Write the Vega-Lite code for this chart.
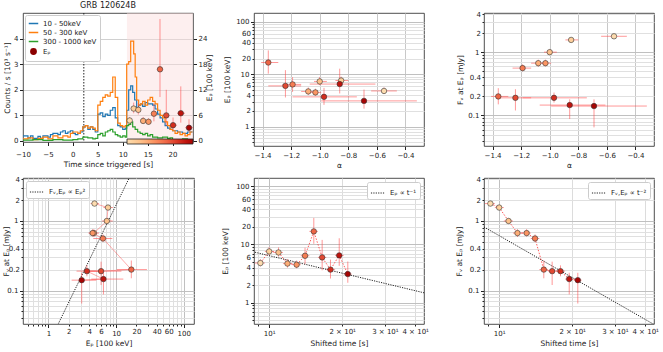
{
"$schema": "https://vega.github.io/schema/vega-lite/v6.json",
"autosize": {"type": "pad"},
"padding": {"left": 2, "top": 1, "right": 2, "bottom": 2},
"config": {
  "font": "DejaVu Sans",
  "view": {"stroke": "#222", "strokeWidth": 0.8},
  "axis": {"domain": false, "labelFontSize": 7, "titleFontSize": 7.5, "titleFontWeight": "normal", "labelColor": "#222", "titleColor": "#222", "tickColor": "#222", "tickSize": 3, "labelPadding": 1.5, "titlePadding": 3, "labelFlush": false, "labelOverlap": false, "gridColor": "#d0d0d0"},
  "legend": {"labelFontSize": 7, "labelFont": "DejaVu Sans", "labelColor": "#222"},
  "title": {"fontSize": 8, "fontWeight": "normal", "font": "DejaVu Sans", "color": "#222"}
},
"datasets": {
  "lc": [
    {"t":-10,"c":0.2,"b":"10 - 50keV"},{"t":-9,"c":0.12,"b":"10 - 50keV"},{"t":-8.5,"c":0.2,"b":"10 - 50keV"},{"t":-8,"c":0.1,"b":"10 - 50keV"},{"t":-7,"c":0.18,"b":"10 - 50keV"},{"t":-6.5,"c":0.1,"b":"10 - 50keV"},{"t":-6,"c":0.2,"b":"10 - 50keV"},{"t":-5,"c":0.15,"b":"10 - 50keV"},{"t":-4.5,"c":0.25,"b":"10 - 50keV"},{"t":-4,"c":0.3,"b":"10 - 50keV"},{"t":-3,"c":0.25,"b":"10 - 50keV"},{"t":-2.5,"c":0.35,"b":"10 - 50keV"},{"t":-2,"c":0.4,"b":"10 - 50keV"},{"t":-1.5,"c":0.3,"b":"10 - 50keV"},{"t":-1,"c":0.35,"b":"10 - 50keV"},{"t":-0.5,"c":0.4,"b":"10 - 50keV"},{"t":0,"c":0.3,"b":"10 - 50keV"},{"t":0.5,"c":0.25,"b":"10 - 50keV"},{"t":1,"c":0.3,"b":"10 - 50keV"},{"t":1.5,"c":0.35,"b":"10 - 50keV"},{"t":2,"c":0.55,"b":"10 - 50keV"},{"t":2.5,"c":0.6,"b":"10 - 50keV"},{"t":3,"c":0.45,"b":"10 - 50keV"},{"t":3.5,"c":0.55,"b":"10 - 50keV"},{"t":4,"c":0.45,"b":"10 - 50keV"},{"t":4.5,"c":0.35,"b":"10 - 50keV"},{"t":5,"c":1.05,"b":"10 - 50keV"},{"t":5.5,"c":1.1,"b":"10 - 50keV"},{"t":6,"c":0.95,"b":"10 - 50keV"},{"t":6.5,"c":1.05,"b":"10 - 50keV"},{"t":7,"c":1.0,"b":"10 - 50keV"},{"t":7.5,"c":1.2,"b":"10 - 50keV"},{"t":8,"c":1.3,"b":"10 - 50keV"},{"t":8.5,"c":0.9,"b":"10 - 50keV"},{"t":9,"c":0.6,"b":"10 - 50keV"},{"t":9.5,"c":0.55,"b":"10 - 50keV"},{"t":10,"c":0.45,"b":"10 - 50keV"},{"t":10.5,"c":0.5,"b":"10 - 50keV"},{"t":10.8,"c":1.2,"b":"10 - 50keV"},{"t":11.2,"c":2.0,"b":"10 - 50keV"},{"t":11.6,"c":2.15,"b":"10 - 50keV"},{"t":12,"c":1.9,"b":"10 - 50keV"},{"t":12.4,"c":1.6,"b":"10 - 50keV"},{"t":12.8,"c":1.3,"b":"10 - 50keV"},{"t":13.2,"c":1.4,"b":"10 - 50keV"},{"t":13.6,"c":1.45,"b":"10 - 50keV"},{"t":14,"c":1.35,"b":"10 - 50keV"},{"t":14.5,"c":1.5,"b":"10 - 50keV"},{"t":15,"c":1.45,"b":"10 - 50keV"},{"t":15.5,"c":1.45,"b":"10 - 50keV"},{"t":16,"c":1.4,"b":"10 - 50keV"},{"t":16.5,"c":1.25,"b":"10 - 50keV"},{"t":17,"c":1.05,"b":"10 - 50keV"},{"t":17.5,"c":0.9,"b":"10 - 50keV"},{"t":18,"c":0.75,"b":"10 - 50keV"},{"t":18.5,"c":0.6,"b":"10 - 50keV"},{"t":19,"c":0.5,"b":"10 - 50keV"},{"t":19.5,"c":0.45,"b":"10 - 50keV"},{"t":20,"c":0.4,"b":"10 - 50keV"},{"t":21,"c":0.35,"b":"10 - 50keV"},{"t":22,"c":0.3,"b":"10 - 50keV"},{"t":23,"c":0.35,"b":"10 - 50keV"},{"t":24,"c":0.35,"b":"10 - 50keV"},
    {"t":-10,"c":0.08,"b":"50 - 300 keV"},{"t":-9,"c":0.12,"b":"50 - 300 keV"},{"t":-8,"c":0.05,"b":"50 - 300 keV"},{"t":-7,"c":0.1,"b":"50 - 300 keV"},{"t":-6,"c":0.15,"b":"50 - 300 keV"},{"t":-5,"c":0.08,"b":"50 - 300 keV"},{"t":-4,"c":0.2,"b":"50 - 300 keV"},{"t":-3,"c":0.12,"b":"50 - 300 keV"},{"t":-2,"c":0.2,"b":"50 - 300 keV"},{"t":-1,"c":0.15,"b":"50 - 300 keV"},{"t":-0.5,"c":0.3,"b":"50 - 300 keV"},{"t":0,"c":0.35,"b":"50 - 300 keV"},{"t":1,"c":0.3,"b":"50 - 300 keV"},{"t":1.5,"c":0.4,"b":"50 - 300 keV"},{"t":2,"c":0.55,"b":"50 - 300 keV"},{"t":2.5,"c":0.6,"b":"50 - 300 keV"},{"t":3,"c":0.5,"b":"50 - 300 keV"},{"t":3.5,"c":0.55,"b":"50 - 300 keV"},{"t":4,"c":0.5,"b":"50 - 300 keV"},{"t":4.5,"c":0.4,"b":"50 - 300 keV"},{"t":5,"c":1.4,"b":"50 - 300 keV"},{"t":5.5,"c":1.55,"b":"50 - 300 keV"},{"t":6,"c":1.7,"b":"50 - 300 keV"},{"t":6.5,"c":1.8,"b":"50 - 300 keV"},{"t":7,"c":1.75,"b":"50 - 300 keV"},{"t":7.5,"c":1.9,"b":"50 - 300 keV"},{"t":8,"c":2.5,"b":"50 - 300 keV"},{"t":8.5,"c":1.7,"b":"50 - 300 keV"},{"t":9,"c":0.7,"b":"50 - 300 keV"},{"t":9.5,"c":0.6,"b":"50 - 300 keV"},{"t":10,"c":0.55,"b":"50 - 300 keV"},{"t":10.5,"c":0.6,"b":"50 - 300 keV"},{"t":10.8,"c":3.0,"b":"50 - 300 keV"},{"t":11.2,"c":3.1,"b":"50 - 300 keV"},{"t":11.6,"c":3.9,"b":"50 - 300 keV"},{"t":12.2,"c":3.4,"b":"50 - 300 keV"},{"t":12.5,"c":2.5,"b":"50 - 300 keV"},{"t":12.8,"c":1.6,"b":"50 - 300 keV"},{"t":13.2,"c":1.4,"b":"50 - 300 keV"},{"t":13.6,"c":1.45,"b":"50 - 300 keV"},{"t":14,"c":1.55,"b":"50 - 300 keV"},{"t":14.5,"c":1.4,"b":"50 - 300 keV"},{"t":15,"c":1.6,"b":"50 - 300 keV"},{"t":15.5,"c":1.7,"b":"50 - 300 keV"},{"t":16,"c":1.55,"b":"50 - 300 keV"},{"t":16.5,"c":1.45,"b":"50 - 300 keV"},{"t":17,"c":1.2,"b":"50 - 300 keV"},{"t":17.5,"c":1.0,"b":"50 - 300 keV"},{"t":18,"c":0.9,"b":"50 - 300 keV"},{"t":18.5,"c":0.75,"b":"50 - 300 keV"},{"t":19,"c":0.6,"b":"50 - 300 keV"},{"t":19.5,"c":0.45,"b":"50 - 300 keV"},{"t":20,"c":0.4,"b":"50 - 300 keV"},{"t":20.5,"c":0.3,"b":"50 - 300 keV"},{"t":21,"c":0.35,"b":"50 - 300 keV"},{"t":21.5,"c":0.25,"b":"50 - 300 keV"},{"t":22,"c":0.3,"b":"50 - 300 keV"},{"t":22.5,"c":0.2,"b":"50 - 300 keV"},{"t":23,"c":0.25,"b":"50 - 300 keV"},{"t":23.5,"c":0.35,"b":"50 - 300 keV"},{"t":24,"c":0.35,"b":"50 - 300 keV"},
    {"t":-10,"c":0.03,"b":"300 - 1000 keV"},{"t":-8,"c":0.05,"b":"300 - 1000 keV"},{"t":-6,"c":0.02,"b":"300 - 1000 keV"},{"t":-4,"c":0.05,"b":"300 - 1000 keV"},{"t":-2,"c":0.03,"b":"300 - 1000 keV"},{"t":0,"c":0.05,"b":"300 - 1000 keV"},{"t":1,"c":0.08,"b":"300 - 1000 keV"},{"t":2,"c":0.15,"b":"300 - 1000 keV"},{"t":3,"c":0.12,"b":"300 - 1000 keV"},{"t":4,"c":0.08,"b":"300 - 1000 keV"},{"t":4.5,"c":0.1,"b":"300 - 1000 keV"},{"t":5,"c":0.25,"b":"300 - 1000 keV"},{"t":5.5,"c":0.3,"b":"300 - 1000 keV"},{"t":6,"c":0.2,"b":"300 - 1000 keV"},{"t":6.5,"c":0.35,"b":"300 - 1000 keV"},{"t":7,"c":0.4,"b":"300 - 1000 keV"},{"t":7.5,"c":0.45,"b":"300 - 1000 keV"},{"t":8,"c":0.35,"b":"300 - 1000 keV"},{"t":8.5,"c":0.25,"b":"300 - 1000 keV"},{"t":9,"c":0.2,"b":"300 - 1000 keV"},{"t":9.5,"c":0.15,"b":"300 - 1000 keV"},{"t":10,"c":0.2,"b":"300 - 1000 keV"},{"t":10.5,"c":0.15,"b":"300 - 1000 keV"},{"t":10.8,"c":0.6,"b":"300 - 1000 keV"},{"t":11.2,"c":0.65,"b":"300 - 1000 keV"},{"t":11.6,"c":0.75,"b":"300 - 1000 keV"},{"t":12,"c":0.55,"b":"300 - 1000 keV"},{"t":12.5,"c":0.45,"b":"300 - 1000 keV"},{"t":13,"c":0.35,"b":"300 - 1000 keV"},{"t":13.5,"c":0.3,"b":"300 - 1000 keV"},{"t":14,"c":0.25,"b":"300 - 1000 keV"},{"t":14.5,"c":0.3,"b":"300 - 1000 keV"},{"t":15,"c":0.2,"b":"300 - 1000 keV"},{"t":15.5,"c":0.25,"b":"300 - 1000 keV"},{"t":16,"c":0.15,"b":"300 - 1000 keV"},{"t":17,"c":0.12,"b":"300 - 1000 keV"},{"t":18,"c":0.15,"b":"300 - 1000 keV"},{"t":19,"c":0.1,"b":"300 - 1000 keV"},{"t":19.5,"c":0.12,"b":"300 - 1000 keV"},{"t":20,"c":0.05,"b":"300 - 1000 keV"},{"t":21,"c":0.03,"b":"300 - 1000 keV"},{"t":22,"c":0.08,"b":"300 - 1000 keV"},{"t":23,"c":0.05,"b":"300 - 1000 keV"},{"t":24,"c":0.05,"b":"300 - 1000 keV"}
  ],
  "ep": [
    {"i":0,"tt":9.2,"t0":8.75,"t1":9.6,"T":11.4,"T0":10.95,"T1":11.8,"ep":4.8,"ep_lo":4.2,"ep_hi":5.6,"a":-0.55,"a_lo":-0.64,"a_hi":-0.46,"f":1.78,"f_lo":1.66,"f_hi":1.9},
    {"i":1,"tt":10.0,"t0":9.6,"t1":10.45,"T":12.2,"T0":11.8,"T1":12.65,"ep":7.6,"ep_lo":6.5,"ep_hi":9.0,"a":-0.85,"a_lo":-0.89,"a_hi":-0.8,"f":1.56,"f_lo":1.45,"f_hi":1.68},
    {"i":2,"tt":10.93,"t0":10.45,"t1":11.4,"T":13.13,"T0":12.65,"T1":13.6,"ep":7.3,"ep_lo":6.2,"ep_hi":8.9,"a":-1.0,"a_lo":-1.04,"a_hi":-0.95,"f":1.0,"f_lo":0.92,"f_hi":1.1},
    {"i":3,"tt":11.9,"t0":11.4,"t1":12.45,"T":14.1,"T0":13.6,"T1":14.65,"ep":4.7,"ep_lo":4.0,"ep_hi":5.6,"a":-1.08,"a_lo":-1.13,"a_hi":-1.03,"f":0.67,"f_lo":0.59,"f_hi":0.76},
    {"i":4,"tt":12.98,"t0":12.45,"t1":13.5,"T":15.18,"T0":14.65,"T1":15.7,"ep":4.5,"ep_lo":3.9,"ep_hi":5.3,"a":-1.03,"a_lo":-1.08,"a_hi":-0.99,"f":0.67,"f_lo":0.6,"f_hi":0.76},
    {"i":5,"tt":14.06,"t0":13.5,"t1":14.65,"T":16.26,"T0":15.7,"T1":16.85,"ep":6.4,"ep_lo":4.6,"ep_hi":8.8,"a":-1.19,"a_lo":-1.26,"a_hi":-1.13,"f":0.56,"f_lo":0.5,"f_hi":0.64},
    {"i":6,"tt":15.28,"t0":14.65,"t1":15.9,"T":17.48,"T0":16.85,"T1":18.1,"ep":16.8,"ep_lo":10.3,"ep_hi":28.6,"a":-1.36,"a_lo":-1.41,"a_hi":-1.29,"f":0.2,"f_lo":0.15,"f_hi":0.27},
    {"i":7,"tt":16.54,"t0":15.9,"t1":17.2,"T":18.74,"T0":18.1,"T1":19.4,"ep":6.0,"ep_lo":3.6,"ep_hi":12.0,"a":-1.24,"a_lo":-1.36,"a_hi":-1.13,"f":0.19,"f_lo":0.12,"f_hi":0.26},
    {"i":8,"tt":17.9,"t0":17.2,"t1":18.7,"T":20.1,"T0":19.4,"T1":20.9,"ep":3.7,"ep_lo":2.6,"ep_hi":5.5,"a":-0.97,"a_lo":-1.19,"a_hi":-0.74,"f":0.19,"f_lo":0.16,"f_hi":0.23},
    {"i":9,"tt":19.45,"t0":18.7,"t1":20.3,"T":21.65,"T0":20.9,"T1":22.5,"ep":6.5,"ep_lo":4.3,"ep_hi":12.8,"a":-0.86,"a_lo":-1.07,"a_hi":-0.61,"f":0.146,"f_lo":0.088,"f_hi":0.18},
    {"i":10,"tt":21.1,"t0":20.3,"t1":21.9,"T":23.3,"T0":22.5,"T1":24.1,"ep":3.1,"ep_lo":2.2,"ep_hi":5.1,"a":-0.69,"a_lo":-0.99,"a_hi":-0.32,"f":0.141,"f_lo":0.065,"f_hi":0.18}
  ]
},
"columns": 3,
"bounds": "flush",
"spacing": {"row": 32, "column": 60},
"resolve": {"scale": {"color": "independent", "fill": "independent"}, "legend": {"color": "independent", "fill": "independent"}},
"concat": [
  {
    "width": 170, "height": 129,
    "title": {"text": "GRB 120624B", "offset": 3},
    "layer": [
      {"data": {"values": [{"x0": 10.85, "x1": 24.1}]},
       "mark": {"type": "rect", "color": "#fbdcdc", "opacity": 0.45},
       "encoding": {"x": {"field": "x0", "type": "quantitative", "title": "Time since triggered [s]", "scale": {"domain": [-10, 24.1], "nice": false, "zero": false}}, "x2": {"field": "x1"}}},
      {"data": {"values": [{"t0": 2.2}]},
       "mark": {"type": "rule", "color": "#222", "strokeDash": [1.5, 1.5], "strokeWidth": 1},
       "encoding": {"x": {"field": "t0", "type": "quantitative", "title": "Time since triggered [s]", "scale": {"domain": [-10, 24.1], "nice": false, "zero": false}}}},
      {"data": {"name": "lc"},
       "mark": {"type": "line", "interpolate": "step-after", "strokeWidth": 1.2, "clip": true},
       "encoding": {
         "x": {"field": "t", "type": "quantitative", "title": "Time since triggered [s]", "scale": {"domain": [-10, 24.1], "nice": false, "zero": false},
               "axis": {"values": [-10, -5, 0, 5, 10, 15, 20], "tickCount": 100, "format": "d", "grid": false, "labelPadding": 5, "tickSize": 3.5, "labelOverlap": false}},
         "y": {"field": "c", "type": "quantitative", "title": "Counts / s [10³ s⁻¹]", "scale": {"domain": [-0.04, 5.0], "nice": false, "zero": false},
               "axis": {"values": [0, 1, 2, 3, 4], "tickCount": 100, "format": "d", "grid": true, "gridColor": "#d0d0d0", "tickSize": 3.5, "titlePadding": 2, "labelOverlap": false}},
         "color": {"field": "b", "type": "nominal",
           "scale": {"domain": ["10 - 50keV", "50 - 300 keV", "300 - 1000 keV", "Eₚ"], "range": ["#1f77b4", "#ff7f0e", "#2ca02c", "#8b0000"]},
           "legend": {"orient": "top-left", "offset": 2, "title": null, "fillColor": "white", "strokeColor": "#cccccc", "cornerRadius": 2, "padding": 3, "labelFontSize": 7, "symbolType": "stroke", "symbolSize": 90, "symbolStrokeWidth": 1.5, "rowPadding": 0,
             "encode": {"symbols": {"update": {"shape": {"signal": "datum.value === 'Eₚ' ? 'circle' : 'stroke'"}, "fill": {"signal": "datum.value === 'Eₚ' ? '#8b0000' : 'transparent'"}, "size": {"signal": "datum.value === 'Eₚ' ? 28 : 90"}}}}}}
       }},
      {"data": {"name": "ep"},
       "layer": [
         {"mark": {"type": "rule", "color": "#ff4444", "opacity": 0.55, "strokeWidth": 1},
          "encoding": {"x": {"field": "T0", "type": "quantitative", "title": "Time since triggered [s]", "scale": {"domain": [-10, 24.1], "nice": false, "zero": false}}, "x2": {"field": "T1"},
                       "y": {"field": "ep", "type": "quantitative", "title": "Eₚ [100 keV]", "scale": {"domain": [-0.24, 30], "nice": false, "zero": false},
                             "axis": {"orient": "right", "values": [0, 6, 12, 18, 24], "tickCount": 100, "format": "d", "titleAngle": 270, "titlePadding": 7, "grid": false, "tickSize": 3.5, "labelOverlap": false}}}},
         {"mark": {"type": "rule", "color": "#ff4444", "opacity": 0.55, "strokeWidth": 1},
          "encoding": {"x": {"field": "T", "type": "quantitative", "title": "Time since triggered [s]", "scale": {"domain": [-10, 24.1], "nice": false, "zero": false}},
                       "y": {"field": "ep_lo", "type": "quantitative", "title": "Eₚ [100 keV]", "scale": {"domain": [-0.24, 30], "nice": false, "zero": false}}, "y2": {"field": "ep_hi"}}},
         {"mark": {"type": "point", "shape": "circle", "filled": true, "size": 30, "stroke": "#333", "strokeWidth": 0.6, "opacity": 1},
          "encoding": {"x": {"field": "T", "type": "quantitative", "title": "Time since triggered [s]", "scale": {"domain": [-10, 24.1], "nice": false, "zero": false}},
                       "y": {"field": "ep", "type": "quantitative", "title": "Eₚ [100 keV]", "scale": {"domain": [-0.24, 30], "nice": false, "zero": false}},
                       "fill": {"field": "i", "type": "quantitative", "scale": {"scheme": "orangered", "domain": [0, 10]},
                                "legend": {"orient": "none", "legendX": 104, "legendY": 126, "direction": "horizontal", "gradientLength": 66, "gradientThickness": 5, "title": null, "labelOpacity": 0, "labelFontSize": 1, "gradientStrokeColor": "#222", "gradientStrokeWidth": 0.8}}}}
       ]}
    ],
    "resolve": {"scale": {"y": "independent"}}
  },
  {
    "width": 170, "height": 133,
    "data": {"name": "ep"},
    "layer": [
      {"mark": {"type": "rule", "color": "#ff4444", "opacity": 0.55, "strokeWidth": 1},
       "encoding": {"x": {"field": "a_lo", "type": "quantitative", "title": "α", "scale": {"domain": [-1.46, -0.27], "nice": false, "zero": false},
                          "axis": {"values": [-1.4, -1.2, -1.0, -0.8, -0.6, -0.4], "tickCount": 100, "format": ".1f", "grid": true, "gridColor": "#c8c8c8", "tickSize": 3.5, "labelOverlap": false}},
                    "x2": {"field": "a_hi"},
                    "y": {"field": "ep", "type": "quantitative", "title": "Eₚ [100 keV]", "scale": {"type": "log", "domain": [0.425, 148.6], "nice": false},
                          "axis": {"values": [0.5,0.6,0.7,0.8,0.9,1,2,3,4,5,6,7,8,9,10,20,30,40,50,60,70,80,90,100], "tickCount": 100, "format": "~g", "grid": true, "titlePadding": 4.5, "labelOverlap": false,
                                   "labelExpr": "indexof([1,2,4,6,10,20,40,60,100], datum.value) >= 0 ? datum.label : ''",
                                   "gridColor": {"condition": {"test": "indexof([1,10,100], datum.value) >= 0", "value": "#c0c0c0"}, "value": "#e0e0e0"},
                                   "tickSize": {"condition": {"test": "indexof([1,10,100], datum.value) >= 0", "value": 3.5}, "value": 2}}}}},
      {"mark": {"type": "rule", "color": "#ff4444", "opacity": 0.55, "strokeWidth": 1},
       "encoding": {"x": {"field": "a", "type": "quantitative", "title": "α", "scale": {"domain": [-1.46, -0.27], "nice": false, "zero": false}},
                    "y": {"field": "ep_lo", "type": "quantitative", "title": "Eₚ [100 keV]", "scale": {"type": "log", "domain": [0.425, 148.6], "nice": false}}, "y2": {"field": "ep_hi"}}},
      {"mark": {"type": "point", "shape": "circle", "filled": true, "size": 30, "stroke": "#333", "strokeWidth": 0.6, "opacity": 1},
       "encoding": {"x": {"field": "a", "type": "quantitative", "title": "α", "scale": {"domain": [-1.46, -0.27], "nice": false, "zero": false}},
                    "y": {"field": "ep", "type": "quantitative", "title": "Eₚ [100 keV]", "scale": {"type": "log", "domain": [0.425, 148.6], "nice": false}},
                    "fill": {"field": "i", "type": "quantitative", "scale": {"scheme": "orangered", "domain": [0, 10]}, "legend": null}}}
    ]
  },
  {
    "width": 170, "height": 133,
    "data": {"name": "ep"},
    "layer": [
      {"mark": {"type": "rule", "color": "#ff4444", "opacity": 0.55, "strokeWidth": 1},
       "encoding": {"x": {"field": "a_lo", "type": "quantitative", "title": "α", "scale": {"domain": [-1.46, -0.27], "nice": false, "zero": false},
                          "axis": {"values": [-1.4, -1.2, -1.0, -0.8, -0.6, -0.4], "tickCount": 100, "format": ".1f", "grid": true, "gridColor": "#c8c8c8", "tickSize": 3.5, "labelOverlap": false}},
                    "x2": {"field": "a_hi"},
                    "y": {"field": "f", "type": "quantitative", "title": "Fᵥ  at  Eₚ [mJy]", "scale": {"type": "log", "domain": [0.033, 4.15], "nice": false},
                          "axis": {"values": [0.04,0.05,0.06,0.07,0.08,0.09,0.1,0.2,0.3,0.4,0.5,0.6,0.7,0.8,0.9,1,2,3,4], "tickCount": 100, "format": "~g", "grid": true, "titlePadding": 3, "labelOverlap": false,
                                   "labelExpr": "indexof([0.1,0.2,0.4,1,2,4], datum.value) >= 0 ? datum.label : ''",
                                   "gridColor": {"condition": {"test": "indexof([0.1,1], datum.value) >= 0", "value": "#c0c0c0"}, "value": "#e0e0e0"},
                                   "tickSize": {"condition": {"test": "indexof([0.1,1], datum.value) >= 0", "value": 3.5}, "value": 2}}}}},
      {"mark": {"type": "rule", "color": "#ff4444", "opacity": 0.55, "strokeWidth": 1},
       "encoding": {"x": {"field": "a", "type": "quantitative", "title": "α", "scale": {"domain": [-1.46, -0.27], "nice": false, "zero": false}},
                    "y": {"field": "f_lo", "type": "quantitative", "title": "Fᵥ  at  Eₚ [mJy]", "scale": {"type": "log", "domain": [0.033, 4.15], "nice": false}}, "y2": {"field": "f_hi"}}},
      {"mark": {"type": "point", "shape": "circle", "filled": true, "size": 30, "stroke": "#333", "strokeWidth": 0.6, "opacity": 1},
       "encoding": {"x": {"field": "a", "type": "quantitative", "title": "α", "scale": {"domain": [-1.46, -0.27], "nice": false, "zero": false}},
                    "y": {"field": "f", "type": "quantitative", "title": "Fᵥ  at  Eₚ [mJy]", "scale": {"type": "log", "domain": [0.033, 4.15], "nice": false}},
                    "fill": {"field": "i", "type": "quantitative", "scale": {"scheme": "orangered", "domain": [0, 10]}, "legend": null}}}
    ]
  },
  {
    "width": 171, "height": 146,
    "layer": [
      {"data": {"name": "ep"},
       "mark": {"type": "line", "color": "#ff4444", "opacity": 0.5, "strokeWidth": 0.9},
       "encoding": {"x": {"field": "ep", "type": "quantitative", "title": "Eₚ [100 keV]", "scale": {"type": "log", "domain": [0.42, 142], "nice": false},
                          "axis": {"values": [0.5,0.6,0.7,0.8,0.9,1,2,3,4,5,6,7,8,9,10,20,30,40,50,60,70,80,90,100], "tickCount": 100, "format": "~g", "grid": true, "labelOverlap": false,
                                   "labelExpr": "indexof([1,2,4,6,10,20,40,60,100], datum.value) >= 0 ? datum.label : ''",
                                   "gridColor": {"condition": {"test": "indexof([1,10,100], datum.value) >= 0", "value": "#c0c0c0"}, "value": "#e0e0e0"},
                                   "tickSize": {"condition": {"test": "indexof([1,10,100], datum.value) >= 0", "value": 3.5}, "value": 2}}},
                    "y": {"field": "f", "type": "quantitative", "title": "Fᵥ  at  Eₚ [mJy]", "scale": {"type": "log", "domain": [0.033, 4.15], "nice": false},
                          "axis": {"values": [0.04,0.05,0.06,0.07,0.08,0.09,0.1,0.2,0.3,0.4,0.5,0.6,0.7,0.8,0.9,1,2,3,4], "tickCount": 100, "format": "~g", "grid": true, "titlePadding": -4, "labelOverlap": false,
                                   "labelExpr": "indexof([0.1,0.2,0.4,1,2,4], datum.value) >= 0 ? datum.label : ''",
                                   "gridColor": {"condition": {"test": "indexof([0.1,1], datum.value) >= 0", "value": "#c0c0c0"}, "value": "#e0e0e0"},
                                   "tickSize": {"condition": {"test": "indexof([0.1,1], datum.value) >= 0", "value": 3.5}, "value": 2}}},
                    "order": {"field": "i", "type": "quantitative"}}},
      {"data": {"values": [{"x": 1.0, "y": 0.017, "lbl": "Fᵥ,Eₚ ∝ Eₚ²"}, {"x": 20, "y": 6.8, "lbl": "Fᵥ,Eₚ ∝ Eₚ²"}]},
       "mark": {"type": "line", "strokeDash": [1.2, 1.2], "strokeWidth": 1, "clip": true},
       "encoding": {"x": {"field": "x", "type": "quantitative", "title": "Eₚ [100 keV]", "scale": {"type": "log", "domain": [0.42, 142], "nice": false}},
                    "y": {"field": "y", "type": "quantitative", "title": "Fᵥ  at  Eₚ [mJy]", "scale": {"type": "log", "domain": [0.033, 4.15], "nice": false}},
                    "color": {"field": "lbl", "type": "nominal", "scale": {"range": ["#222"]},
                              "legend": {"orient": "top-left", "offset": 3, "title": null, "fillColor": "white", "strokeColor": "#cccccc", "cornerRadius": 2, "padding": 3, "labelFontSize": 7, "symbolType": "stroke", "symbolDash": [1.2, 1.2], "symbolSize": 200, "symbolStrokeWidth": 1}}}},
      {"data": {"name": "ep"},
       "mark": {"type": "rule", "color": "#ff4444", "opacity": 0.55, "strokeWidth": 1},
       "encoding": {"x": {"field": "ep_lo", "type": "quantitative", "title": "Eₚ [100 keV]", "scale": {"type": "log", "domain": [0.42, 142], "nice": false}}, "x2": {"field": "ep_hi"},
                    "y": {"field": "f", "type": "quantitative", "title": "Fᵥ  at  Eₚ [mJy]", "scale": {"type": "log", "domain": [0.033, 4.15], "nice": false}}}},
      {"data": {"name": "ep"},
       "mark": {"type": "rule", "color": "#ff4444", "opacity": 0.55, "strokeWidth": 1},
       "encoding": {"x": {"field": "ep", "type": "quantitative", "title": "Eₚ [100 keV]", "scale": {"type": "log", "domain": [0.42, 142], "nice": false}},
                    "y": {"field": "f_lo", "type": "quantitative", "title": "Fᵥ  at  Eₚ [mJy]", "scale": {"type": "log", "domain": [0.033, 4.15], "nice": false}}, "y2": {"field": "f_hi"}}},
      {"data": {"name": "ep"},
       "mark": {"type": "point", "shape": "circle", "filled": true, "size": 30, "stroke": "#333", "strokeWidth": 0.6, "opacity": 1},
       "encoding": {"x": {"field": "ep", "type": "quantitative", "title": "Eₚ [100 keV]", "scale": {"type": "log", "domain": [0.42, 142], "nice": false}},
                    "y": {"field": "f", "type": "quantitative", "title": "Fᵥ  at  Eₚ [mJy]", "scale": {"type": "log", "domain": [0.033, 4.15], "nice": false}},
                    "fill": {"field": "i", "type": "quantitative", "scale": {"scheme": "orangered", "domain": [0, 10]}, "legend": null}}}
    ]
  },
  {
    "width": 170, "height": 146,
    "layer": [
      {"data": {"values": [{"x": 8, "y": 8.04, "lbl": "Eₚ ∝ t⁻¹"}, {"x": 50, "y": 1.286, "lbl": "Eₚ ∝ t⁻¹"}]},
       "mark": {"type": "line", "strokeDash": [1.2, 1.2], "strokeWidth": 1, "clip": true},
       "encoding": {"x": {"field": "x", "type": "quantitative", "title": "Shifted time [s]", "scale": {"type": "log", "domain": [8.66, 43.5], "nice": false},
                          "axis": {"values": [9, 10, 20, 30, 40], "tickCount": 100, "grid": true, "labelOverlap": false,
                                   "labelExpr": "datum.value == 10 ? '10¹' : datum.value == 20 ? '2 × 10¹' : datum.value == 30 ? '3 × 10¹' : datum.value == 40 ? '4 × 10¹' : ''",
                                   "gridColor": {"condition": {"test": "datum.value == 10", "value": "#c0c0c0"}, "value": "#dcdcdc"},
                                   "tickSize": {"condition": {"test": "datum.value == 10", "value": 3.5}, "value": 2}}},
                    "y": {"field": "y", "type": "quantitative", "title": "Eₚ [100 keV]", "scale": {"type": "log", "domain": [0.43, 139], "nice": false},
                          "axis": {"values": [0.5,0.6,0.7,0.8,0.9,1,2,3,4,5,6,7,8,9,10,20,30,40,50,60,70,80,90,100], "tickCount": 100, "format": "~g", "grid": true, "titlePadding": 6, "labelOverlap": false,
                                   "labelExpr": "indexof([1,2,4,6,10,20,40,60,100], datum.value) >= 0 ? datum.label : ''",
                                   "gridColor": {"condition": {"test": "indexof([1,10,100], datum.value) >= 0", "value": "#c0c0c0"}, "value": "#e0e0e0"},
                                   "tickSize": {"condition": {"test": "indexof([1,10,100], datum.value) >= 0", "value": 3.5}, "value": 2}}},
                    "color": {"field": "lbl", "type": "nominal", "scale": {"range": ["#222"]},
                              "legend": {"orient": "top-right", "offset": 4, "title": null, "fillColor": "white", "strokeColor": "#cccccc", "cornerRadius": 2, "padding": 3, "labelFontSize": 7, "symbolType": "stroke", "symbolDash": [1.2, 1.2], "symbolSize": 200, "symbolStrokeWidth": 1}}}},
      {"data": {"name": "ep"},
       "mark": {"type": "line", "color": "#ff3333", "opacity": 0.8, "strokeWidth": 1, "strokeDash": [1.5, 1.5]},
       "encoding": {"x": {"field": "tt", "type": "quantitative", "title": "Shifted time [s]", "scale": {"type": "log", "domain": [8.66, 43.5], "nice": false}},
                    "y": {"field": "ep", "type": "quantitative", "title": "Eₚ [100 keV]", "scale": {"type": "log", "domain": [0.43, 139], "nice": false}},
                    "order": {"field": "i", "type": "quantitative"}}},
      {"data": {"name": "ep"},
       "mark": {"type": "rule", "color": "#ff4444", "opacity": 0.55, "strokeWidth": 1},
       "encoding": {"x": {"field": "t0", "type": "quantitative", "title": "Shifted time [s]", "scale": {"type": "log", "domain": [8.66, 43.5], "nice": false}}, "x2": {"field": "t1"},
                    "y": {"field": "ep", "type": "quantitative", "title": "Eₚ [100 keV]", "scale": {"type": "log", "domain": [0.43, 139], "nice": false}}}},
      {"data": {"name": "ep"},
       "mark": {"type": "rule", "color": "#ff4444", "opacity": 0.55, "strokeWidth": 1},
       "encoding": {"x": {"field": "tt", "type": "quantitative", "title": "Shifted time [s]", "scale": {"type": "log", "domain": [8.66, 43.5], "nice": false}},
                    "y": {"field": "ep_lo", "type": "quantitative", "title": "Eₚ [100 keV]", "scale": {"type": "log", "domain": [0.43, 139], "nice": false}}, "y2": {"field": "ep_hi"}}},
      {"data": {"name": "ep"},
       "mark": {"type": "point", "shape": "circle", "filled": true, "size": 30, "stroke": "#333", "strokeWidth": 0.6, "opacity": 1},
       "encoding": {"x": {"field": "tt", "type": "quantitative", "title": "Shifted time [s]", "scale": {"type": "log", "domain": [8.66, 43.5], "nice": false}},
                    "y": {"field": "ep", "type": "quantitative", "title": "Eₚ [100 keV]", "scale": {"type": "log", "domain": [0.43, 139], "nice": false}},
                    "fill": {"field": "i", "type": "quantitative", "scale": {"scheme": "orangered", "domain": [0, 10]}, "legend": null}}}
    ]
  },
  {
    "width": 170, "height": 146,
    "layer": [
      {"data": {"values": [{"x": 8, "y": 0.961, "lbl": "Fᵥ,Eₚ ∝ t⁻²"}, {"x": 50, "y": 0.0246, "lbl": "Fᵥ,Eₚ ∝ t⁻²"}]},
       "mark": {"type": "line", "strokeDash": [1.2, 1.2], "strokeWidth": 1, "clip": true},
       "encoding": {"x": {"field": "x", "type": "quantitative", "title": "Shifted time [s]", "scale": {"type": "log", "domain": [8.66, 43.5], "nice": false},
                          "axis": {"values": [9, 10, 20, 30, 40], "tickCount": 100, "grid": true, "labelOverlap": false,
                                   "labelExpr": "datum.value == 10 ? '10¹' : datum.value == 20 ? '2 × 10¹' : datum.value == 30 ? '3 × 10¹' : datum.value == 40 ? '4 × 10¹' : ''",
                                   "gridColor": {"condition": {"test": "datum.value == 10", "value": "#c0c0c0"}, "value": "#dcdcdc"},
                                   "tickSize": {"condition": {"test": "datum.value == 10", "value": 3.5}, "value": 2}}},
                    "y": {"field": "y", "type": "quantitative", "title": "Fᵥ  at  Eₚ [mJy]", "scale": {"type": "log", "domain": [0.033, 4.15], "nice": false},
                          "axis": {"values": [0.04,0.05,0.06,0.07,0.08,0.09,0.1,0.2,0.3,0.4,0.5,0.6,0.7,0.8,0.9,1,2,3,4], "tickCount": 100, "format": "~g", "grid": true, "titlePadding": 4, "labelOverlap": false,
                                   "labelExpr": "indexof([0.1,0.2,0.4,1,2,4], datum.value) >= 0 ? datum.label : ''",
                                   "gridColor": {"condition": {"test": "indexof([0.1,1], datum.value) >= 0", "value": "#c0c0c0"}, "value": "#e0e0e0"},
                                   "tickSize": {"condition": {"test": "indexof([0.1,1], datum.value) >= 0", "value": 3.5}, "value": 2}}},
                    "color": {"field": "lbl", "type": "nominal", "scale": {"range": ["#222"]},
                              "legend": {"orient": "top-right", "offset": 4, "title": null, "fillColor": "white", "strokeColor": "#cccccc", "cornerRadius": 2, "padding": 3, "labelFontSize": 7, "symbolType": "stroke", "symbolDash": [1.2, 1.2], "symbolSize": 200, "symbolStrokeWidth": 1}}}},
      {"data": {"name": "ep"},
       "mark": {"type": "line", "color": "#ff3333", "opacity": 0.8, "strokeWidth": 1, "strokeDash": [1.5, 1.5]},
       "encoding": {"x": {"field": "tt", "type": "quantitative", "title": "Shifted time [s]", "scale": {"type": "log", "domain": [8.66, 43.5], "nice": false}},
                    "y": {"field": "f", "type": "quantitative", "title": "Fᵥ  at  Eₚ [mJy]", "scale": {"type": "log", "domain": [0.033, 4.15], "nice": false}},
                    "order": {"field": "i", "type": "quantitative"}}},
      {"data": {"name": "ep"},
       "mark": {"type": "rule", "color": "#ff4444", "opacity": 0.55, "strokeWidth": 1},
       "encoding": {"x": {"field": "t0", "type": "quantitative", "title": "Shifted time [s]", "scale": {"type": "log", "domain": [8.66, 43.5], "nice": false}}, "x2": {"field": "t1"},
                    "y": {"field": "f", "type": "quantitative", "title": "Fᵥ  at  Eₚ [mJy]", "scale": {"type": "log", "domain": [0.033, 4.15], "nice": false}}}},
      {"data": {"name": "ep"},
       "mark": {"type": "rule", "color": "#ff4444", "opacity": 0.55, "strokeWidth": 1},
       "encoding": {"x": {"field": "tt", "type": "quantitative", "title": "Shifted time [s]", "scale": {"type": "log", "domain": [8.66, 43.5], "nice": false}},
                    "y": {"field": "f_lo", "type": "quantitative", "title": "Fᵥ  at  Eₚ [mJy]", "scale": {"type": "log", "domain": [0.033, 4.15], "nice": false}}, "y2": {"field": "f_hi"}}},
      {"data": {"name": "ep"},
       "mark": {"type": "point", "shape": "circle", "filled": true, "size": 30, "stroke": "#333", "strokeWidth": 0.6, "opacity": 1},
       "encoding": {"x": {"field": "tt", "type": "quantitative", "title": "Shifted time [s]", "scale": {"type": "log", "domain": [8.66, 43.5], "nice": false}},
                    "y": {"field": "f", "type": "quantitative", "title": "Fᵥ  at  Eₚ [mJy]", "scale": {"type": "log", "domain": [0.033, 4.15], "nice": false}},
                    "fill": {"field": "i", "type": "quantitative", "scale": {"scheme": "orangered", "domain": [0, 10]}, "legend": null}}}
    ]
  }
]
}
